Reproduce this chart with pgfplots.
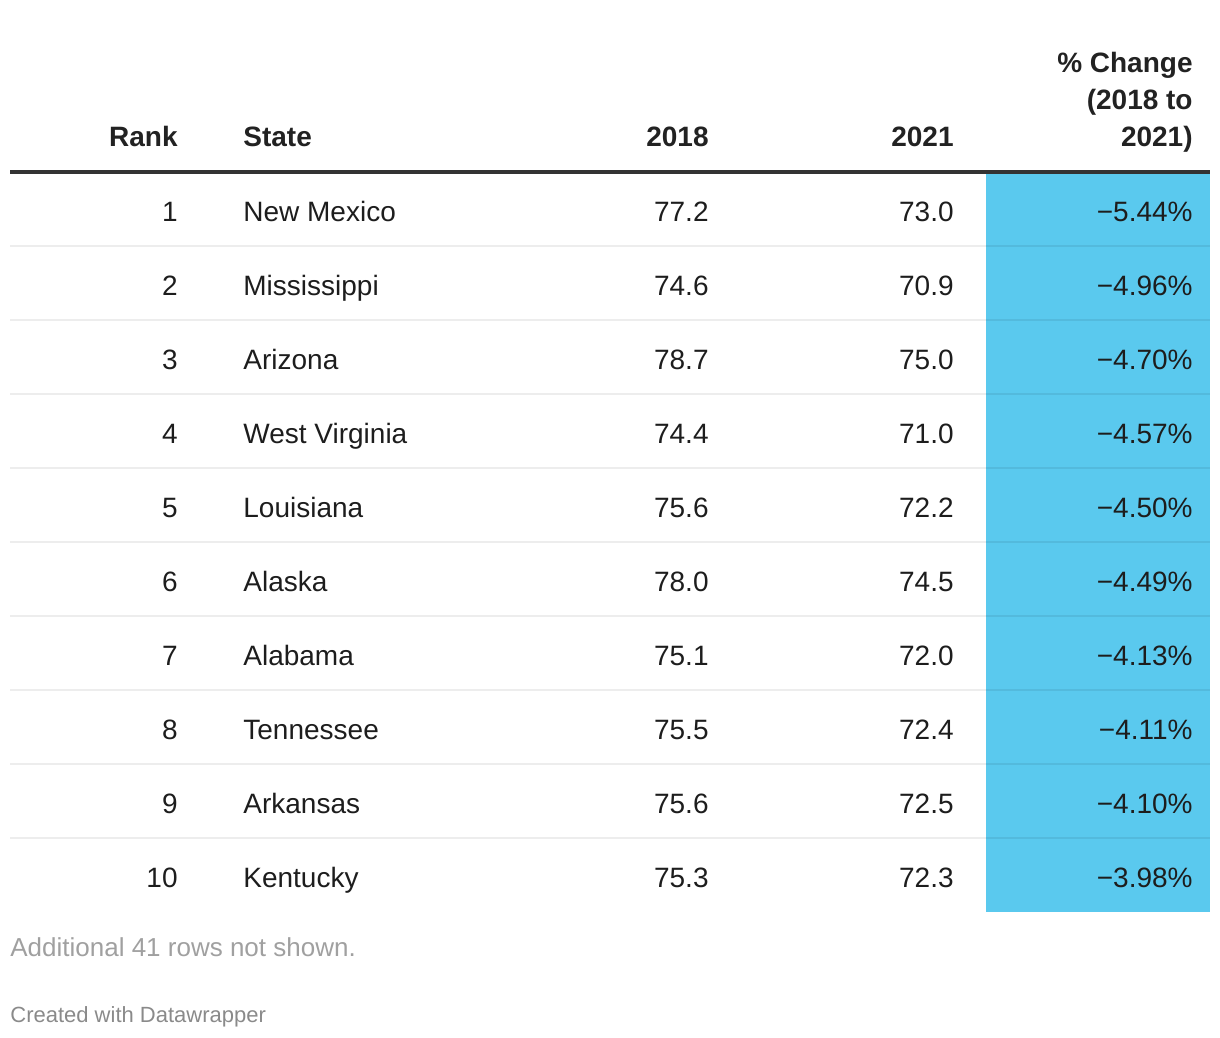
\documentclass[border=0pt]{standalone}
\usepackage{fontspec}
\setmainfont{Liberation Sans}
\usepackage{pgfplots}
\usepackage{pgfplotstable}
\pgfplotsset{compat=1.18}
\definecolor{cellblue}{HTML}{5AC9EE}
\definecolor{txt}{HTML}{1D1D1D}
\definecolor{hdr}{HTML}{222222}
\definecolor{rule}{HTML}{333333}
\definecolor{foot}{HTML}{A0A0A0}
\definecolor{foot2}{HTML}{8A8A8A}
\newcommand\rowfont{\fontsize{14}{17}\selectfont}
\newcommand\hdrfont{\fontsize{14}{17}\selectfont\bfseries}
\pgfplotstableread[col sep=comma]{
rank,state,a,b,chg,yb
1,New Mexico,77.2,73.0,5.44,221
2,Mississippi,74.6,70.9,4.96,295
3,Arizona,78.7,75.0,4.70,369
4,West Virginia,74.4,71.0,4.57,443
5,Louisiana,75.6,72.2,4.50,517
6,Alaska,78.0,74.5,4.49,591
7,Alabama,75.1,72.0,4.13,665
8,Tennessee,75.5,72.4,4.11,739
9,Arkansas,75.6,72.5,4.10,813
10,Kentucky,75.3,72.3,3.98,887
}\data
\begin{document}
\begin{tikzpicture}
\begin{axis}[
  width=610pt, height=519pt, scale only axis,
  xmin=0, xmax=1220, ymin=0, ymax=1038, y dir=reverse,
  hide axis, clip=false,
  every axis plot/.append style={mark=none},
]
\path (rel axis cs:0,0) rectangle (rel axis cs:1,1);
% blue column
\addplot[fill=cellblue, draw=none] coordinates {(986,173) (1210,173) (1210,911.5) (986,911.5)} -- cycle;
% row separators
\addplot[black, opacity=0.07, line width=1pt] coordinates {(10,246) (1210,246)};
\addplot[black, opacity=0.07, line width=1pt] coordinates {(10,320) (1210,320)};
\addplot[black, opacity=0.07, line width=1pt] coordinates {(10,394) (1210,394)};
\addplot[black, opacity=0.07, line width=1pt] coordinates {(10,468) (1210,468)};
\addplot[black, opacity=0.07, line width=1pt] coordinates {(10,542) (1210,542)};
\addplot[black, opacity=0.07, line width=1pt] coordinates {(10,616) (1210,616)};
\addplot[black, opacity=0.07, line width=1pt] coordinates {(10,690) (1210,690)};
\addplot[black, opacity=0.07, line width=1pt] coordinates {(10,764) (1210,764)};
\addplot[black, opacity=0.07, line width=1pt] coordinates {(10,838) (1210,838)};
% header rule
\addplot[rule, line width=2pt] coordinates {(10,172) (1210,172)};
% cells
\addplot[draw=none, nodes near coords, point meta=explicit symbolic,
  nodes near coords style={anchor=base east, inner sep=0pt, font=\rowfont, text=txt}]
  table[x expr=178, y=yb, meta=rank] {\data};
\addplot[draw=none, nodes near coords, point meta=explicit symbolic,
  nodes near coords style={anchor=base west, inner sep=0pt, font=\rowfont, text=txt}]
  table[x expr=243, y=yb, meta=state] {\data};
\addplot[draw=none, nodes near coords, point meta=explicit symbolic,
  nodes near coords style={anchor=base east, inner sep=0pt, font=\rowfont, text=txt}]
  table[x expr=709, y=yb, meta=a] {\data};
\addplot[draw=none, nodes near coords, point meta=explicit symbolic,
  nodes near coords style={anchor=base east, inner sep=0pt, font=\rowfont, text=txt}]
  table[x expr=954, y=yb, meta=b] {\data};
\addplot[draw=none, nodes near coords={−\pgfplotspointmeta\%}, point meta=explicit symbolic,
  nodes near coords style={anchor=base east, inner sep=0pt, font=\rowfont, text=txt}]
  table[x expr=1193, y=yb, meta=chg] {\data};
% headers
\node[anchor=base east, inner sep=0pt, font=\hdrfont, text=hdr] at (axis cs:178,147) {Rank};
\node[anchor=base west, inner sep=0pt, font=\hdrfont, text=hdr] at (axis cs:243,147) {State};
\node[anchor=base east, inner sep=0pt, font=\hdrfont, text=hdr] at (axis cs:709,147) {2018};
\node[anchor=base east, inner sep=0pt, font=\hdrfont, text=hdr] at (axis cs:954,147) {2021};
\node[anchor=base east, inner sep=0pt, font=\hdrfont, text=hdr] at (axis cs:1193,73) {\% Change};
\node[anchor=base east, inner sep=0pt, font=\hdrfont, text=hdr] at (axis cs:1193,110) {(2018 to};
\node[anchor=base east, inner sep=0pt, font=\hdrfont, text=hdr] at (axis cs:1193,147) {2021)};
% footer
\node[anchor=base west, inner sep=0pt, font=\fontsize{13}{16}\selectfont, text=foot] at (axis cs:10,956) {Additional 41 rows not shown.};
\node[anchor=base west, inner sep=0pt, font=\fontsize{11}{13}\selectfont, text=foot2] at (axis cs:10,1022) {Created with Datawrapper};
\end{axis}
\end{tikzpicture}
\end{document}
